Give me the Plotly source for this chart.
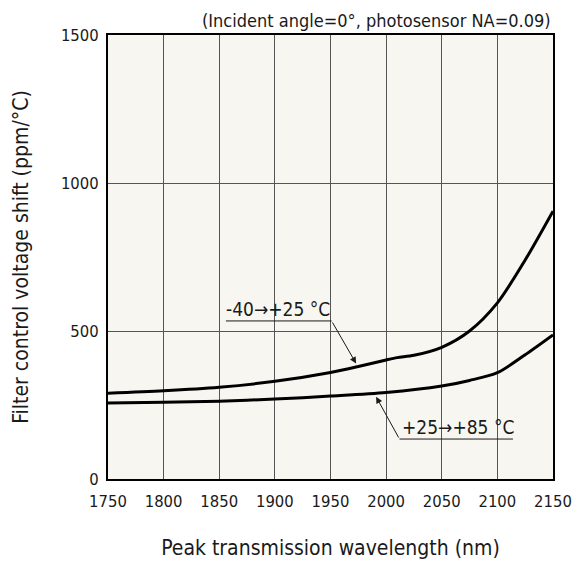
import numpy as np
import plotly.graph_objects as go

# Temperature coefficient of the filter control voltage vs. peak wavelength
wavelength_cold = [1750, 1800, 1850, 1900, 1950, 1975, 2000, 2010, 2025, 2050, 2075, 2100, 2125, 2150]
shift_cold = [290, 298, 310, 330, 360, 380, 402, 410, 418, 445, 500, 595, 740, 905]   # -40 -> +25 degC

wavelength_hot = [1750, 1800, 1850, 1900, 1950, 2000, 2050, 2075, 2100, 2125, 2150]
shift_hot = [257, 259, 263, 270, 280, 292, 314, 333, 359, 420, 487]                   # +25 -> +85 degC

x_ticks = [1750, 1800, 1850, 1900, 1950, 2000, 2050, 2100, 2150]
y_ticks = [0, 500, 1000, 1500]

FONT = "DejaVu Sans Condensed, Noto Sans, sans-serif"
INK = "#1a1a1a"

fig = go.Figure()
for xs, ys in [(wavelength_cold, shift_cold), (wavelength_hot, shift_hot)]:
    fig.add_trace(go.Scatter(
        x=xs, y=ys, mode="lines",
        line=dict(color="black", width=3, shape="spline", smoothing=0.8),
        showlegend=False, hoverinfo="skip",
    ))

# Curve labels: underlined text with a leader arrow pointing at the curve
labels = [
    # text, text centre (x, y), underline x0, x1, y, arrow start x, arrow target x, curve
    ("-40→+25 °C", 1903, 575, 1856, 1951, 534, 1951, 1973, wavelength_cold, shift_cold, 12),
    ("+25→+85 °C", 2065, 176, 2012, 2114, 135, 2012, 1991, wavelength_hot, shift_hot, -12),
]

for text, tx, ty, ux0, ux1, uy, sx, ax_t, xs, ys, off in labels:
    fig.add_annotation(x=tx, y=ty, text=text, showarrow=False,
                       font=dict(family=FONT, size=19, color=INK),
                       xanchor="center", yanchor="middle")
    fig.add_shape(type="line", x0=ux0, x1=ux1, y0=uy, y1=uy,
                  line=dict(color=INK, width=1))
    target_y = float(np.interp(ax_t, xs, ys)) + off
    fig.add_annotation(x=ax_t, y=target_y, ax=sx, ay=uy,
                       xref="x", yref="y", axref="x", ayref="y",
                       text="", showarrow=True, arrowhead=2, arrowsize=1.3,
                       arrowwidth=1, arrowcolor=INK)

fig.add_annotation(x=1, y=1, xref="paper", yref="paper", yshift=2,
                   text="(Incident angle=0°, photosensor NA=0.09)",
                   showarrow=False, xanchor="right", yanchor="bottom",
                   font=dict(family=FONT, size=18, color=INK))

axis_common = dict(
    showgrid=True, gridcolor="#555555", gridwidth=1,
    showline=True, linecolor="black", linewidth=2, mirror=True,
    ticks="", zeroline=False, automargin=False,
    tickfont=dict(family=FONT, size=16.5, color=INK),
)

fig.update_xaxes(range=[1750, 2150], tickvals=x_ticks, ticktext=[str(v) for v in x_ticks],
                 ticklabelstandoff=6,
                 title=dict(text="Peak transmission wavelength (nm)", standoff=31,
                            font=dict(family=FONT, size=21, color=INK)),
                 **axis_common)
fig.update_yaxes(range=[0, 1500], tickvals=y_ticks, ticktext=[str(v) for v in y_ticks],
                 ticklabelstandoff=4,
                 title=dict(text="Filter control voltage shift (ppm/°C)", standoff=27,
                            font=dict(family=FONT, size=21, color=INK)),
                 **axis_common)

fig.update_layout(
    width=576, height=569,
    margin=dict(l=108, r=23, t=35, b=90),
    paper_bgcolor="white", plot_bgcolor="#f7f6f0",
    showlegend=False,
)

fig.write_html("out.html")
